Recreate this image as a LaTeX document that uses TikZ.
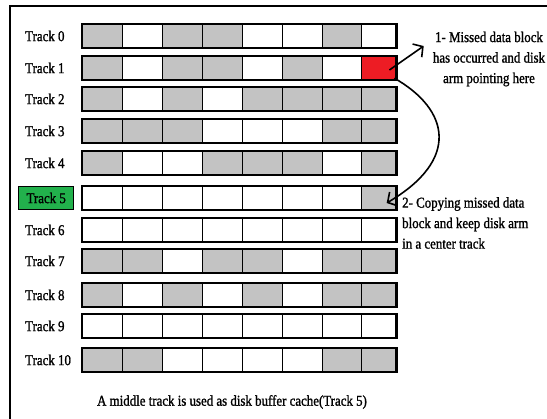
\documentclass[tikz,border=0pt]{standalone}
\usepackage{fontspec}
\setmainfont{Liberation Serif}[FakeStretch=0.86, FakeBold=1.2]
\usetikzlibrary{arrows.meta,positioning,calc}
\definecolor{blockgray}{RGB}{195,195,195}
\definecolor{missred}{RGB}{237,28,36}
\definecolor{cachegreen}{RGB}{34,177,76}
\tikzset{
  cell/.style={draw=black, line width=1.4pt, inner sep=0pt, minimum height=23pt},
  cellG/.style={cell, fill=blockgray},
  cellW/.style={cell, fill=white},
  cellR/.style={cell, fill=missred},
  barframe/.style={draw=black, line width=2.2pt},
  tracklabel/.style={anchor=west, inner sep=0pt},
  cachelabel/.style={anchor=west, draw=black, line width=1.4pt, fill=cachegreen,
    minimum width=55pt, minimum height=23pt, inner sep=0pt, xshift=-7pt},
  note/.style={inner sep=0pt, font=\fontsize{15}{20.5}\selectfont},
  arm/.style={-{Straight Barb[length=7pt,width=16pt]}, line width=1.6pt}
}

\begin{document}
\begin{tikzpicture}[x=1pt, y=-1pt, font=\fontsize{15}{17}\selectfont]
\useasboundingbox (0,0) rectangle (547,419);
\draw[line width=2.5pt] (10,419) -- (10,6) -- (547,6);

% tracks and their blocks
\foreach \r/\yc/\lst/\pat in {
  0/36/tracklabel/{G,W,G,G,W,W,G,W},
  1/68/tracklabel/{G,W,G,G,W,G,W,R},
  2/99/tracklabel/{G,W,G,W,G,G,G,G},
  3/131/tracklabel/{G,G,G,W,W,W,G,G},
  4/163/tracklabel/{G,W,W,G,G,G,W,G},
  5/198/cachelabel/{W,W,W,W,W,W,W,G},
  6/230/tracklabel/{W,W,W,W,W,W,W,W},
  7/261/tracklabel/{G,G,W,G,G,W,G,G},
  8/295/tracklabel/{G,W,G,W,G,W,G,G},
  9/326/tracklabel/{W,W,W,W,W,W,W,W},
  10/360/tracklabel/{G,G,W,W,W,W,G,G}}{
  \node[\lst] (lab\r) at (25,\yc) {Track \r};
  \foreach \c [count=\k from 0] in \pat {
    \pgfmathsetmacro\xl{{82,122,162,202,242,282,322,361,395}[\k]}
    \pgfmathsetmacro\xr{{82,122,162,202,242,282,322,361,395}[\k+1]}
    \pgfmathsetmacro\cw{\xr-\xl}
    \node[cell\c, minimum width=\cw pt, anchor=west] (t\r c\k) at (\xl,\yc) {};
  }
  \draw[barframe] (t\r c0.north west) rectangle (t\r c7.south east);
}

% notes
\node[note, align=center] (note1) at (489,59) {1- Missed data block\\has occurred and disk\\arm pointing here};
\node[note, align=left, anchor=north west] (note2) at (402,197) {2- Copying missed data\\block and keep disk arm\\in a center track};
\node[inner sep=0pt] (caption) at (232,402) {A middle track is used as disk buffer cache(Track 5)};

\draw[arm] ([shift={(-7,2)}]t1c7.east) -- ([shift={(-9,-13)}]note1.west);
\draw[arm] ([shift={(-2,-2)}]t1c7.south east) .. controls (450,110) and (460,160) .. ([shift={(8,5)}]t5c7.center);
\end{tikzpicture}
\end{document}
